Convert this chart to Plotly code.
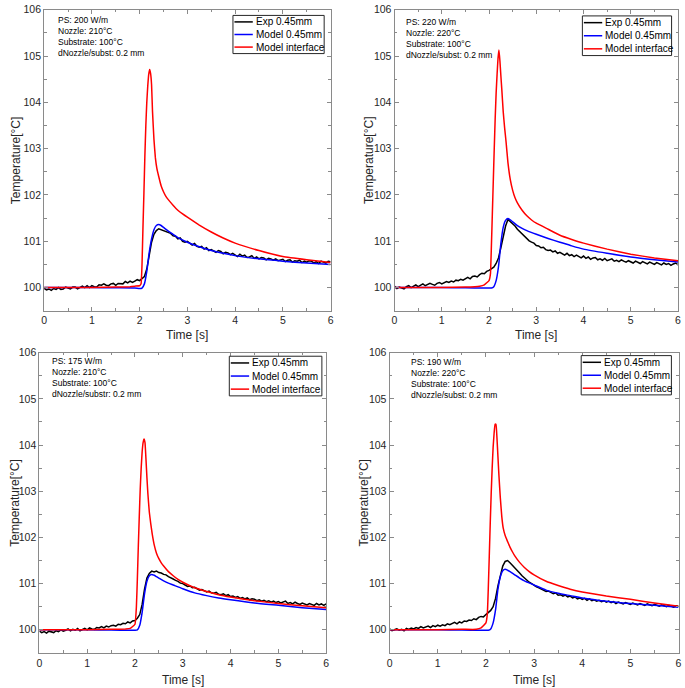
import plotly.graph_objects as go

W, H = 685, 688

# ---------------- data ----------------
t_exp = [round(i * 0.05, 2) for i in range(121)]

exp_200 = [99.98, 99.95, 99.97, 99.94, 99.98, 99.96, 100.00, 99.96, 99.97, 100.01,
           99.99, 99.97, 100.01, 100.01, 99.97, 100.00, 100.03, 100.00, 100.04, 100.00,
           100.04, 100.02, 100.01, 100.06, 100.05, 100.08, 100.05, 100.04, 100.08, 100.09,
           100.05, 100.09, 100.09, 100.08, 100.13, 100.10, 100.14, 100.11, 100.14, 100.17,
           100.15, 100.19, 100.24, 100.40, 100.72, 100.98, 101.15, 101.23, 101.27, 101.25,
           101.24, 101.21, 101.19, 101.17, 101.12, 101.11, 101.05, 101.07, 101.00, 100.98,
           101.00, 100.95, 100.92, 100.95, 100.89, 100.87, 100.89, 100.83, 100.86, 100.80,
           100.82, 100.79, 100.76, 100.80, 100.78, 100.73, 100.76, 100.75, 100.71, 100.74,
           100.70, 100.67, 100.72, 100.68, 100.70, 100.65, 100.66, 100.69, 100.63, 100.66,
           100.62, 100.65, 100.64, 100.60, 100.63, 100.62, 100.59, 100.62, 100.58, 100.60,
           100.61, 100.56, 100.59, 100.60, 100.55, 100.58, 100.57, 100.59, 100.54, 100.57,
           100.55, 100.58, 100.57, 100.53, 100.56, 100.52, 100.57, 100.55, 100.53, 100.57,
           100.56]

exp_220 = [100.03, 99.98, 100.01, 99.99, 99.97, 100.02, 100.04, 100.00, 100.03, 100.06,
           100.02, 100.05, 100.08, 100.04, 100.06, 100.09, 100.07, 100.05, 100.09, 100.11,
           100.08, 100.10, 100.13, 100.11, 100.14, 100.12, 100.16, 100.15, 100.18, 100.16,
           100.20, 100.22, 100.19, 100.24, 100.25, 100.23, 100.28, 100.31, 100.30, 100.35,
           100.37, 100.40, 100.44, 100.52, 100.64, 100.86, 101.12, 101.33, 101.47, 101.43,
           101.37, 101.33, 101.26, 101.21, 101.16, 101.10, 101.07, 101.01, 100.98, 100.96,
           100.91, 100.90, 100.86, 100.87, 100.82, 100.80, 100.81, 100.77, 100.79, 100.74,
           100.76, 100.73, 100.70, 100.74, 100.69, 100.71, 100.67, 100.70, 100.66, 100.64,
           100.68, 100.63, 100.66, 100.61, 100.64, 100.65, 100.60, 100.62, 100.59, 100.63,
           100.58, 100.60, 100.62, 100.57, 100.59, 100.56, 100.60, 100.57, 100.55, 100.58,
           100.56, 100.53, 100.57, 100.55, 100.52, 100.56, 100.54, 100.51, 100.55, 100.52,
           100.50, 100.54, 100.52, 100.49, 100.53, 100.50, 100.52, 100.48, 100.51, 100.53,
           100.49]

exp_175 = [99.97, 99.94, 99.96, 99.93, 99.97, 99.95, 99.94, 99.98, 99.96, 100.00,
           99.97, 99.99, 100.02, 99.98, 100.01, 99.99, 100.03, 99.98, 100.01, 100.03,
           100.00, 100.04, 100.02, 100.01, 100.05, 100.04, 100.07, 100.04, 100.08, 100.06,
           100.09, 100.10, 100.08, 100.12, 100.11, 100.14, 100.13, 100.17, 100.15, 100.19,
           100.20, 100.25, 100.33, 100.55, 100.88, 101.12, 101.22, 101.27, 101.25, 101.27,
           101.24, 101.23, 101.20, 101.19, 101.15, 101.13, 101.10, 101.07, 101.05, 101.01,
           101.00, 100.97, 100.94, 100.95, 100.91, 100.92, 100.88, 100.86, 100.87, 100.84,
           100.82, 100.84, 100.80, 100.79, 100.81, 100.77, 100.76, 100.78, 100.74, 100.76,
           100.72, 100.73, 100.70, 100.72, 100.68, 100.70, 100.67, 100.69, 100.65, 100.67,
           100.66, 100.63, 100.65, 100.62, 100.64, 100.61, 100.63, 100.60, 100.62, 100.59,
           100.61, 100.58, 100.60, 100.62, 100.57, 100.59, 100.56, 100.60, 100.57, 100.55,
           100.58, 100.56, 100.54, 100.57, 100.55, 100.53, 100.57, 100.54, 100.56, 100.53,
           100.56]

exp_190 = [100.02, 99.98, 100.00, 100.02, 99.99, 100.01, 99.98, 100.03, 100.01, 100.04,
           100.02, 100.05, 100.03, 100.07, 100.04, 100.06, 100.08, 100.05, 100.09, 100.07,
           100.10, 100.08, 100.11, 100.09, 100.13, 100.11, 100.14, 100.16, 100.13, 100.17,
           100.15, 100.19, 100.18, 100.21, 100.20, 100.24, 100.22, 100.27, 100.29, 100.28,
           100.33, 100.37, 100.42, 100.50, 100.68, 100.95, 101.20, 101.38, 101.48, 101.50,
           101.45, 101.40, 101.34, 101.28, 101.23, 101.17, 101.12, 101.08, 101.03, 101.00,
           100.96, 100.93, 100.91, 100.88, 100.86, 100.83, 100.84, 100.80, 100.78, 100.80,
           100.75, 100.76, 100.73, 100.75, 100.71, 100.73, 100.69, 100.71, 100.67, 100.69,
           100.66, 100.68, 100.64, 100.67, 100.63, 100.65, 100.62, 100.64, 100.61, 100.63,
           100.60, 100.62, 100.59, 100.61, 100.57, 100.60, 100.58, 100.56, 100.59, 100.57,
           100.55, 100.58, 100.56, 100.54, 100.57, 100.55, 100.53, 100.56, 100.54, 100.52,
           100.55, 100.53, 100.51, 100.54, 100.52, 100.50, 100.53, 100.51, 100.49, 100.52,
           100.51]

t_model = [0.0, 1.0, 1.5, 1.9, 2.0, 2.05, 2.1, 2.15, 2.2, 2.25, 2.3, 2.35, 2.4, 2.45,
           2.5, 2.6, 2.7, 2.8, 3.0, 3.25, 3.5, 3.75, 4.0, 4.5, 5.0, 5.5, 6.0]

model_200 = [100.0, 100.0, 99.995, 99.99, 99.98, 99.99, 100.08, 100.35, 100.75, 101.05,
             101.25, 101.34, 101.36, 101.34, 101.30, 101.22, 101.15, 101.08, 100.98, 100.88,
             100.80, 100.74, 100.69, 100.62, 100.57, 100.53, 100.50]
model_220 = [100.0, 100.0, 99.995, 99.99, 99.99, 99.99, 100.02, 100.15, 100.45, 100.95,
             101.30, 101.45, 101.49, 101.46, 101.42, 101.34, 101.28, 101.23, 101.15, 101.06,
             100.98, 100.90, 100.83, 100.74, 100.66, 100.60, 100.55]
model_175 = [100.0, 100.0, 99.995, 99.99, 99.99, 100.0, 100.10, 100.38, 100.78, 101.05,
             101.17, 101.20, 101.18, 101.15, 101.12, 101.06, 101.01, 100.97, 100.89, 100.80,
             100.74, 100.69, 100.65, 100.58, 100.53, 100.48, 100.44]
model_190 = [100.0, 100.0, 99.995, 99.99, 99.99, 99.99, 100.02, 100.15, 100.43, 100.88,
             101.15, 101.28, 101.31, 101.29, 101.26, 101.19, 101.12, 101.06, 100.97, 100.86,
             100.79, 100.74, 100.69, 100.62, 100.57, 100.53, 100.49]

t_intf = [0.0, 0.5, 1.0, 1.5, 1.8, 1.9, 2.0, 2.03, 2.05, 2.07, 2.09, 2.11, 2.13, 2.15,
          2.17, 2.19, 2.21, 2.23, 2.25, 2.27, 2.3, 2.33, 2.36, 2.4, 2.45, 2.5, 2.55, 2.6,
          2.7, 2.8, 2.9, 3.0, 3.25, 3.5, 3.75, 4.0, 4.5, 5.0, 5.5, 6.0]

intf_200 = [100.0, 100.0, 100.0, 100.01, 100.02, 100.03, 100.04, 100.08, 100.50, 101.30,
            102.05, 102.85, 103.50, 104.00, 104.35, 104.60, 104.71, 104.62, 104.38, 103.80,
            103.20, 102.80, 102.58, 102.40, 102.20, 102.07, 101.97, 101.90, 101.78, 101.67,
            101.59, 101.52, 101.35, 101.20, 101.07, 100.96, 100.80, 100.67, 100.60, 100.54]
intf_220 = [100.0, 100.0, 100.0, 100.01, 100.03, 100.06, 100.15, 100.30, 100.90, 101.60,
            102.30, 103.00, 103.65, 104.20, 104.60, 104.95, 105.13, 104.90, 104.58, 104.28,
            103.80, 103.45, 103.15, 102.70, 102.33, 102.10, 101.94, 101.83, 101.67, 101.55,
            101.46, 101.39, 101.26, 101.13, 101.04, 100.96, 100.83, 100.72, 100.64, 100.58]
intf_175 = [100.0, 100.0, 100.0, 100.01, 100.02, 100.03, 100.12, 100.50, 101.10, 101.80,
            102.45, 103.05, 103.50, 103.85, 104.05, 104.13, 104.05, 103.70, 103.30, 102.95,
            102.55, 102.30, 102.08, 101.85, 101.66, 101.54, 101.45, 101.38, 101.26, 101.17,
            101.09, 101.03, 100.91, 100.83, 100.76, 100.71, 100.63, 100.57, 100.52, 100.48]
intf_190 = [100.0, 100.0, 100.0, 100.01, 100.01, 100.04, 100.15, 100.35, 100.90, 101.60,
            102.30, 102.95, 103.50, 103.95, 104.25, 104.45, 104.45, 104.15, 103.75, 103.35,
            102.85, 102.45, 102.20, 102.04, 101.91, 101.79, 101.69, 101.60, 101.46, 101.35,
            101.26, 101.19, 101.05, 100.96, 100.88, 100.82, 100.73, 100.66, 100.58, 100.51]

series_names = ["Exp 0.45mm", "Model 0.45mm", "Model interface"]
series_colors = ["#000000", "#0000FF", "#FF0000"]

info_texts = [
    ["PS: 200 W/m", "Nozzle: 210°C", "Substrate: 100°C", "dNozzle/subst: 0.2 mm"],
    ["PS: 220 W/m", "Nozzle: 220°C", "Substrate: 100°C", "dNozzle/subst: 0.2 mm"],
    ["PS: 175 W/m", "Nozzle: 210°C", "Substrate: 100°C", "dNozzle/substr: 0.2 mm"],
    ["PS: 190 W/m", "Nozzle: 220°C", "Substrate: 100°C", "dNozzle/subst: 0.2 mm"],
]

x_ticks = [0, 1, 2, 3, 4, 5, 6]
y_ticks = [100, 101, 102, 103, 104, 105, 106]
x_range = [0, 6]
y_range = [99.5, 106]

# ---------------- layout geometry (page pixels) ----------------
panels = [
    dict(l=41.5, r=330.5, t=3.8, b=307.4, exp=exp_200, mod=model_200, intf=intf_200,
         info=(53, 13.5), leg=(232, 9.5, 324, 48), ytx=13, xty=332),
    dict(l=395.0, r=681.0, t=3.8, b=307.4, exp=exp_220, mod=model_220, intf=intf_220,
         info=(405, 15), leg=(584.5, 10, 674.5, 50), ytx=369, xty=332),
    dict(l=36.7, r=326.0, t=349.7, b=652.6, exp=exp_175, mod=model_175, intf=intf_175,
         info=(47.7, 357.3), leg=(228.3, 353.3, 321.7, 393.3), ytx=12, xty=680),
    dict(l=390.0, r=681.5, t=349.7, b=652.6, exp=exp_190, mod=model_190, intf=intf_190,
         info=(409.3, 358.3), leg=(583.3, 352.7, 674.3, 392.3), ytx=364, xty=680),
]

def px(x):
    return x / W

def py(y):
    return 1 - y / H

FONT = "Liberation Sans, Arial, Helvetica, sans-serif"
AXC = "#8a8a8a"
TXC = "#262626"

fig = go.Figure()
shapes = []
annotations = []
layout_axes = {}

for i, p in enumerate(panels):
    n = "" if i == 0 else str(i + 1)
    xa, ya = "x" + n, "y" + n
    fig.add_trace(go.Scatter(x=t_exp, y=p["exp"], mode="lines", name=series_names[0],
                             line=dict(color=series_colors[0], width=1.5),
                             xaxis=xa, yaxis=ya, showlegend=False))
    fig.add_trace(go.Scatter(x=t_model, y=p["mod"], mode="lines", name=series_names[1],
                             line=dict(color=series_colors[1], width=1.5, shape="spline", smoothing=0.6),
                             xaxis=xa, yaxis=ya, showlegend=False))
    fig.add_trace(go.Scatter(x=t_intf, y=p["intf"], mode="lines", name=series_names[2],
                             line=dict(color=series_colors[2], width=1.5, shape="spline", smoothing=0.3),
                             xaxis=xa, yaxis=ya, showlegend=False))
    common = dict(showgrid=False, zeroline=False, showline=True, linecolor=AXC, linewidth=1,
                  mirror="ticks", ticks="inside", tickcolor=AXC, ticklen=4, tickwidth=1,
                  tickfont=dict(family=FONT, size=10.5, color=TXC))
    layout_axes["xaxis" + n] = dict(domain=[px(p["l"]), px(p["r"])], range=x_range,
                                    anchor=ya, tickvals=x_ticks,
                                    minor=dict(dtick=0.5, ticks="inside", ticklen=2.5, tickcolor=AXC),
                                    **common)
    layout_axes["yaxis" + n] = dict(domain=[py(p["b"]), py(p["t"])], range=y_range,
                                    anchor=xa, tickvals=y_ticks,
                                    minor=dict(dtick=0.5, ticks="inside", ticklen=2.5, tickcolor=AXC),
                                    **common)
    annotations.append(dict(text="Time [s]", x=px((p["l"] + p["r"]) / 2), y=py(p["xty"]),
                            xref="paper", yref="paper", showarrow=False,
                            xanchor="center", yanchor="middle",
                            font=dict(family=FONT, size=12, color=TXC)))
    annotations.append(dict(text="Temperature[°C]", x=px(p["ytx"]), y=py((p["t"] + p["b"]) / 2),
                            xref="paper", yref="paper", showarrow=False, textangle=-90,
                            xanchor="center", yanchor="middle",
                            font=dict(family=FONT, size=12, color=TXC)))
    annotations.append(dict(text="<br>".join(info_texts[i]), x=px(p["info"][0]),
                            y=py(p["info"][1] - 6), xref="paper", yref="paper",
                            showarrow=False, xanchor="left", yanchor="top", align="left",
                            font=dict(family=FONT, size=8.5, color="#000000")))
    lx0, ly0, lx1, ly1 = p["leg"]
    shapes.append(dict(type="rect", xref="paper", yref="paper", x0=px(lx0), x1=px(lx1),
                       y0=py(ly1), y1=py(ly0), line=dict(color="#262626", width=1),
                       fillcolor="white", layer="above"))
    rows = [ly0 + (ly1 - ly0) * f for f in (0.17, 0.5, 0.83)]
    for name, col, ry in zip(series_names, series_colors, rows):
        shapes.append(dict(type="line", xref="paper", yref="paper",
                           x0=px(lx0 + 1.5), x1=px(lx0 + 20), y0=py(ry), y1=py(ry),
                           line=dict(color=col, width=1.5), layer="above"))
        annotations.append(dict(text=name, x=px(lx0 + 21), y=py(ry), xref="paper", yref="paper",
                                showarrow=False, xanchor="left", yanchor="middle",
                                font=dict(family=FONT, size=10, color="#000000")))

fig.update_layout(width=W, height=H, margin=dict(l=0, r=0, t=0, b=0),
                  paper_bgcolor="white", plot_bgcolor="white", showlegend=False,
                  shapes=shapes, annotations=annotations, **layout_axes)

# remove the default 8px page margin so the figure sits at the window origin
fig.write_html("out.html", config={"displayModeBar": False},
               post_script="document.body.style.margin='0px';document.body.style.overflow='hidden';")
